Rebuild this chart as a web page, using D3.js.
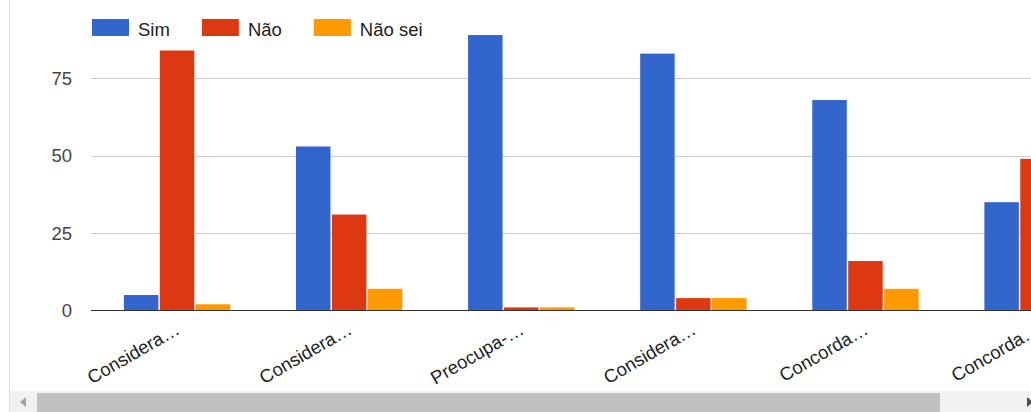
<!DOCTYPE html>
<html>
<head>
<meta charset="utf-8">
<script src="https://cdn.jsdelivr.net/npm/d3@7"></script>
<style>
  html, body { margin: 0; padding: 0; background: #fff; overflow: hidden; }
  svg { display: block; }
  text { font-family: "Liberation Sans", Arial, sans-serif; }
</style>
</head>
<body>
<svg id="chart" width="1031" height="412"></svg>
<script>
// ---- data ----
const categories = ["q1", "q2", "q3", "q4", "q5", "q6"];
const categoryLabels = ["Considera…", "Considera…", "Preocupa-…", "Considera…", "Concorda…", "Concorda…"];
const seriesNames = ["Sim", "Não", "Não sei"];
const simValues = [5, 53, 89, 83, 68, 35];
const naoValues = [84, 31, 1, 4, 16, 49];
const naoSeiValues = [2, 7, 1, 4, 7, null]; // last one is scrolled out of view
const yTicks = [0, 25, 50, 75];
const colors = ["#3366cc", "#dc3912", "#ff9900"];

const W = 1031, H = 412;
const svg = d3.select("#chart");

const plotLeft = 91;
const step = 172.1;
const x0 = d3.scaleBand()
  .domain(categories)
  .range([plotLeft, plotLeft + step * categories.length])
  .paddingInner(0.382).paddingOuter(0.191);
const x1 = d3.scaleBand().domain(seriesNames).range([0, x0.bandwidth()]).paddingInner(0.04);
const y = d3.scaleLinear().domain([0, 100]).range([310.5, 1]);

// clip for the scrolling area
svg.append("clipPath").attr("id", "clipArea")
  .append("rect").attr("x", 10).attr("y", 0).attr("width", W - 10).attr("height", 390);

// left border
svg.append("line").attr("x1", 9.5).attr("x2", 9.5).attr("y1", 0).attr("y2", H)
  .attr("stroke", "#dcdcdc").attr("stroke-width", 1);

const g = svg.append("g").attr("clip-path", "url(#clipArea)");

// gridlines
g.append("g").selectAll("line").data(yTicks.filter(d => d !== 0)).join("line")
  .attr("x1", plotLeft).attr("x2", W)
  .attr("y1", d => Math.round(y(d)) + 0.5).attr("y2", d => Math.round(y(d)) + 0.5)
  .attr("stroke", "#cccccc").attr("stroke-width", 1);

// y tick labels
svg.append("g").selectAll("text").data(yTicks).join("text")
  .attr("x", 72).attr("y", d => y(d)).attr("dy", "0.36em")
  .attr("text-anchor", "end").attr("font-size", 18.5).attr("fill", "#444")
  .text(d => d);

// bars
const seriesData = [simValues, naoValues, naoSeiValues];
const groups = g.append("g").selectAll("g").data(categories).join("g")
  .attr("transform", d => `translate(${x0(d)},0)`);
groups.selectAll("rect")
  .data((d, i) => seriesNames.map((s, j) => ({ s, v: seriesData[j][i], j })).filter(e => e.v != null))
  .join("rect")
  .attr("x", d => x1(d.s))
  .attr("width", x1.bandwidth())
  .attr("y", d => y(d.v))
  .attr("height", d => y(0) - y(d.v))
  .attr("fill", d => colors[d.j]);

// baseline
g.append("line").attr("x1", plotLeft).attr("x2", W)
  .attr("y1", y(0)).attr("y2", y(0))
  .attr("stroke", "#333").attr("stroke-width", 1.2);

// x labels
g.append("g").selectAll("text").data(categories).join("text")
  .attr("transform", (d) => `translate(${x0(d) + x0.bandwidth() / 2 + 4},333) rotate(-30)`)
  .attr("text-anchor", "end").attr("font-size", 18.5).attr("fill", "#222")
  .text((d, i) => categoryLabels[i]);

// legend
const legend = svg.append("g");
let lx = 92;
seriesNames.forEach((s, i) => {
  legend.append("rect").attr("x", lx).attr("y", 19).attr("width", 37).attr("height", 17).attr("fill", colors[i]);
  const t = legend.append("text").attr("x", lx + 46).attr("y", 35.5).attr("font-size", 18.5).attr("fill", "#222").text(s);
  lx += 46 + t.node().getComputedTextLength() + 32;
});

// scrollbar
svg.append("rect").attr("x", 10).attr("y", 391).attr("width", W - 10).attr("height", 21).attr("fill", "#f1f1f1");
svg.append("rect").attr("x", 37).attr("y", 393).attr("width", 903).attr("height", 19).attr("fill", "#c1c1c1");
svg.append("path").attr("d", "M20,402 L26,397 L26,407 Z").attr("fill", "#a3a3a3");
svg.append("path").attr("d", "M1027,397 L1033,402 L1027,407 Z").attr("fill", "#505050");
</script>
</body>
</html>
